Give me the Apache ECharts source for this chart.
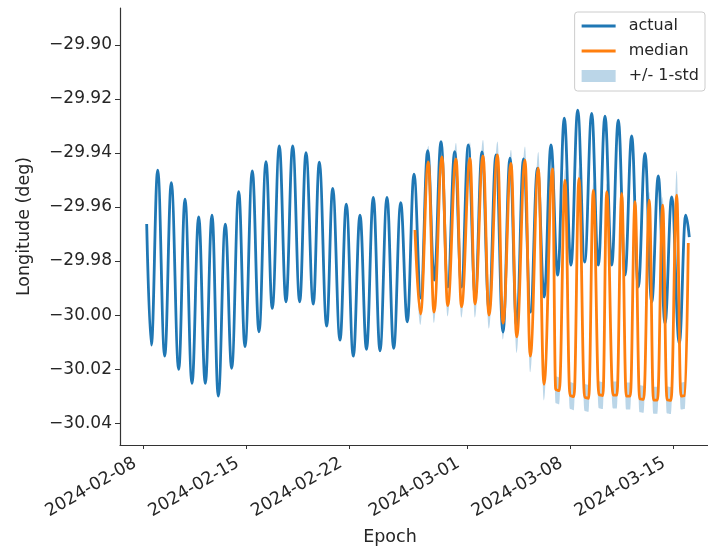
<!DOCTYPE html>
<html>
<head>
<meta charset="utf-8">
<script src="https://cdn.jsdelivr.net/npm/echarts@6/dist/echarts.min.js"></script>
<style>
  html, body { margin: 0; padding: 0; background: #ffffff; }
  #chart { width: 708px; height: 552px; }
</style>
</head>
<body>
<div id="chart"></div>
<script>
// Epochs are stored as days elapsed since START (UTC).
const START = Date.parse('2024-02-08T00:00:00Z');
const DAY = 86400000;

const xTickLabels = ['2024-02-08', '2024-02-15', '2024-02-22', '2024-03-01', '2024-03-08', '2024-03-15'];
const yTicks = [-30.04, -30.02, -30.00, -29.98, -29.96, -29.94, -29.92, -29.90];
const xRange = ['2024-02-06T09:19:00Z', '2024-03-17T09:19:00Z'];
const yRange = [-30.0481, -29.8863];

// Observed longitude: daily extrema (days since START, degrees)
const actualDays = [
  0.204, 0.517, 0.952, 1.429, 1.878, 2.381, 2.810, 3.286, 3.741, 4.190,
  4.646, 5.075, 5.551, 5.986, 6.463, 6.891, 7.388, 7.844, 8.320, 8.748,
  9.224, 9.680, 10.136, 10.612, 11.041, 11.537, 11.946, 12.449, 12.857, 13.354,
  13.782, 14.259, 14.714, 15.156, 15.619, 16.075, 16.551, 17.007, 17.483, 17.932,
  18.388, 18.850, 19.320, 19.769, 20.224, 20.687, 21.156, 21.619, 22.082, 22.551,
  23.014, 23.490, 23.966, 24.442, 24.918, 25.374, 25.837, 26.313, 26.789, 27.245,
  27.707, 28.163, 28.612, 29.068, 29.524, 30.000, 30.476, 30.925, 31.381, 31.837,
  32.286, 32.741, 33.197, 33.646, 34.102, 34.558, 35.007, 35.463, 35.918, 36.435,
  36.871, 37.116
];
const actualLon = [
  -29.9663, -30.0111, -29.9463, -30.0152, -29.9510, -30.0201, -29.9571, -30.0253, -29.9636, -30.0253,
  -29.9630, -30.0300, -29.9663, -30.0197, -29.9543, -30.0117, -29.9466, -30.0062, -29.9432, -29.9975,
  -29.9374, -29.9951, -29.9374, -29.9951, -29.9399, -29.9959, -29.9434, -30.0041, -29.9531, -30.0093,
  -29.9589, -30.0152, -29.9630, -30.0127, -29.9564, -30.0132, -29.9564, -30.0123, -29.9584, -30.0025,
  -29.9478, -29.9937, -29.9391, -29.9870, -29.9358, -29.9896, -29.9395, -29.9896, -29.9370, -29.9930,
  -29.9396, -29.9981, -29.9407, -30.0063, -29.9419, -30.0044, -29.9422, -29.9989, -29.9456, -29.9933,
  -29.9370, -29.9852, -29.9271, -29.9815, -29.9241, -29.9804, -29.9253, -29.9815, -29.9263, -29.9815,
  -29.9278, -29.9852, -29.9337, -29.9896, -29.9401, -29.9952, -29.9485, -30.0030, -29.9562, -30.0104,
  -29.9630, -29.9711
];

// Predicted median and its 1-sigma spread
const medianDays = [
  18.456, 18.830, 19.361, 19.748, 20.293, 20.680, 21.245, 21.619, 22.197, 22.537,
  23.082, 23.490, 24.068, 24.442, 24.986, 25.374, 25.939, 26.299, 26.844, 27.231,
  27.810, 28.03, 28.27, 28.660, 29.00, 29.27, 29.612, 30.00, 30.27, 30.585,
  30.97, 31.24, 31.497, 31.93, 32.19, 32.517, 32.83, 33.10, 33.422, 33.74,
  34.01, 34.395, 34.68, 34.95, 35.306, 35.60, 35.87, 36.259, 36.55, 36.82,
  37.048
];
const medianLon = [
  -29.9685, -29.9996, -29.9433, -29.9989, -29.9414, -29.9965, -29.9422, -29.9969, -29.9420, -29.9959,
  -29.9411, -30.0000, -29.9407, -30.0030, -29.9438, -30.0081, -29.9426, -30.0152, -29.9456, -30.0256,
  -29.9459, -30.0276, -30.0280, -29.9500, -30.0298, -30.0302, -29.9494, -30.0305, -30.0308, -29.9537,
  -30.0295, -30.0298, -29.9543, -30.0296, -30.0296, -29.9549, -30.0300, -30.0300, -29.9580, -30.0310,
  -30.0312, -29.9574, -30.0315, -30.0315, -29.9593, -30.0314, -30.0316, -29.9556, -30.0300, -30.0298,
  -29.9733
];
const medianStd = [
  0.002, 0.004, 0.006, 0.004, 0.006, 0.004, 0.006, 0.004, 0.006, 0.005,
  0.006, 0.005, 0.005, 0.006, 0.005, 0.006, 0.005, 0.006, 0.006, 0.006,
  0.005, 0.005, 0.005, 0.004, 0.005, 0.005, 0.004, 0.005, 0.005, 0.003,
  0.005, 0.005, 0.003, 0.005, 0.005, 0.003, 0.005, 0.005, 0.003, 0.005,
  0.005, 0.003, 0.005, 0.005, 0.003, 0.005, 0.005, 0.009, 0.005, 0.005,
  0.002
];

const BLUE = '#1f77b4';
const ORANGE = '#ff7f0e';
const BAND = 'rgba(31,119,180,0.3)';
const FONT = 'DejaVu Sans';
const INK = '#262626';

const toTime = d => START + d * DAY;
const actualData = actualDays.map((d, i) => [toTime(d), actualLon[i]]);
const medianData = medianDays.map((d, i) => [toTime(d), medianLon[i]]);
// Band rows are [value, epoch] so the value column is the one that gets stacked.
const bandBase = medianDays.map((d, i) => [medianLon[i] - medianStd[i], toTime(d)]);
const bandSpan = medianDays.map((d, i) => [2 * medianStd[i], toTime(d)]);

const xTickValues = xTickLabels.map(s => Date.parse(s + 'T00:00:00Z'));
const xLabelOf = {};
xTickValues.forEach((v, i) => { xLabelOf[v] = xTickLabels[i]; });

const curve = { smooth: 0.4, smoothMonotone: 'x', showSymbol: false, symbol: 'none' };
const LINE_ICON = 'path://M0,0H34V3H0Z';

const chart = echarts.init(document.getElementById('chart'), null, { renderer: 'canvas' });
chart.setOption({
  animation: false,
  backgroundColor: '#ffffff',
  textStyle: { fontFamily: FONT },
  grid: { left: 120, right: 0, top: 8, bottom: 107, containLabel: false },
  xAxis: {
    type: 'value',
    z: 10,
    min: Date.parse(xRange[0]),
    max: Date.parse(xRange[1]),
    name: 'Epoch',
    nameLocation: 'middle',
    nameGap: 83,
    nameTextStyle: { fontSize: 17.5, color: INK, fontFamily: FONT, padding: [0, 48, 0, 0] },
    axisLine: { lineStyle: { color: '#333', width: 1.2 } },
    axisTick: { show: true, length: 4, lineStyle: { color: '#333' }, customValues: xTickValues },
    axisLabel: {
      customValues: xTickValues,
      rotate: 30,
      margin: 12,
      padding: [0, 10, 0, 0],
      fontSize: 17.5,
      color: INK,
      fontFamily: FONT,
      formatter: v => xLabelOf[v] || ''
    },
    splitLine: { show: false }
  },
  yAxis: {
    type: 'value',
    z: 10,
    min: yRange[0],
    max: yRange[1],
    name: 'Longitude (deg)',
    nameLocation: 'middle',
    nameGap: 87,
    nameRotate: 90,
    nameTextStyle: { fontSize: 17.5, color: INK, fontFamily: FONT },
    axisLine: { show: true, lineStyle: { color: '#333', width: 1.2 } },
    axisTick: { show: true, length: 5, lineStyle: { color: '#333' }, customValues: yTicks },
    axisLabel: {
      customValues: yTicks,
      margin: 8,
      fontSize: 17,
      color: INK,
      fontFamily: FONT,
      formatter: v => (v < 0 ? '\u2212' : '') + Math.abs(v).toFixed(2)
    },
    splitLine: { show: false }
  },
  legend: {
    orient: 'vertical',
    right: 3,
    top: 12,
    padding: [6, 6, 7, 7],
    itemWidth: 34,
    itemHeight: 12,
    itemGap: 9,
    backgroundColor: '#ffffff',
    borderColor: '#cccccc',
    borderWidth: 1,
    borderRadius: 3,
    z: 20,
    textStyle: { fontSize: 16, color: INK, fontFamily: FONT, lineHeight: 16, padding: [0, 0, 0, 8] },
    data: [
      { name: 'actual', icon: LINE_ICON, itemStyle: { color: BLUE } },
      { name: 'median', icon: LINE_ICON, itemStyle: { color: ORANGE } },
      { name: '+/- 1-std', icon: 'rect', itemStyle: { color: BAND, opacity: 1 } }
    ]
  },
  series: [
    Object.assign({
      name: 'actual',
      type: 'line',
      data: actualData,
      lineStyle: { color: BLUE, width: 2.8 },
      itemStyle: { color: BLUE },
      z: 2
    }, curve),
    // lower edge of the spread (invisible), the filled span is stacked on it
    Object.assign({
      name: 'band-base',
      type: 'line',
      data: bandBase,
      encode: { x: 1, y: 0 },
      stack: 'spread',
      stackStrategy: 'all',
      lineStyle: { width: 0, opacity: 0 },
      itemStyle: { color: BAND },
      silent: true,
      z: 3
    }, curve),
    Object.assign({
      name: '+/- 1-std',
      type: 'line',
      data: bandSpan,
      encode: { x: 1, y: 0 },
      stack: 'spread',
      stackStrategy: 'all',
      lineStyle: { width: 0, opacity: 0 },
      itemStyle: { color: BAND },
      areaStyle: { color: BAND, opacity: 1 },
      silent: true,
      z: 3
    }, curve),
    Object.assign({
      name: 'median',
      type: 'line',
      data: medianData,
      lineStyle: { color: ORANGE, width: 2.8 },
      itemStyle: { color: ORANGE },
      z: 4
    }, curve)
  ]
});
</script>
</body>
</html>
